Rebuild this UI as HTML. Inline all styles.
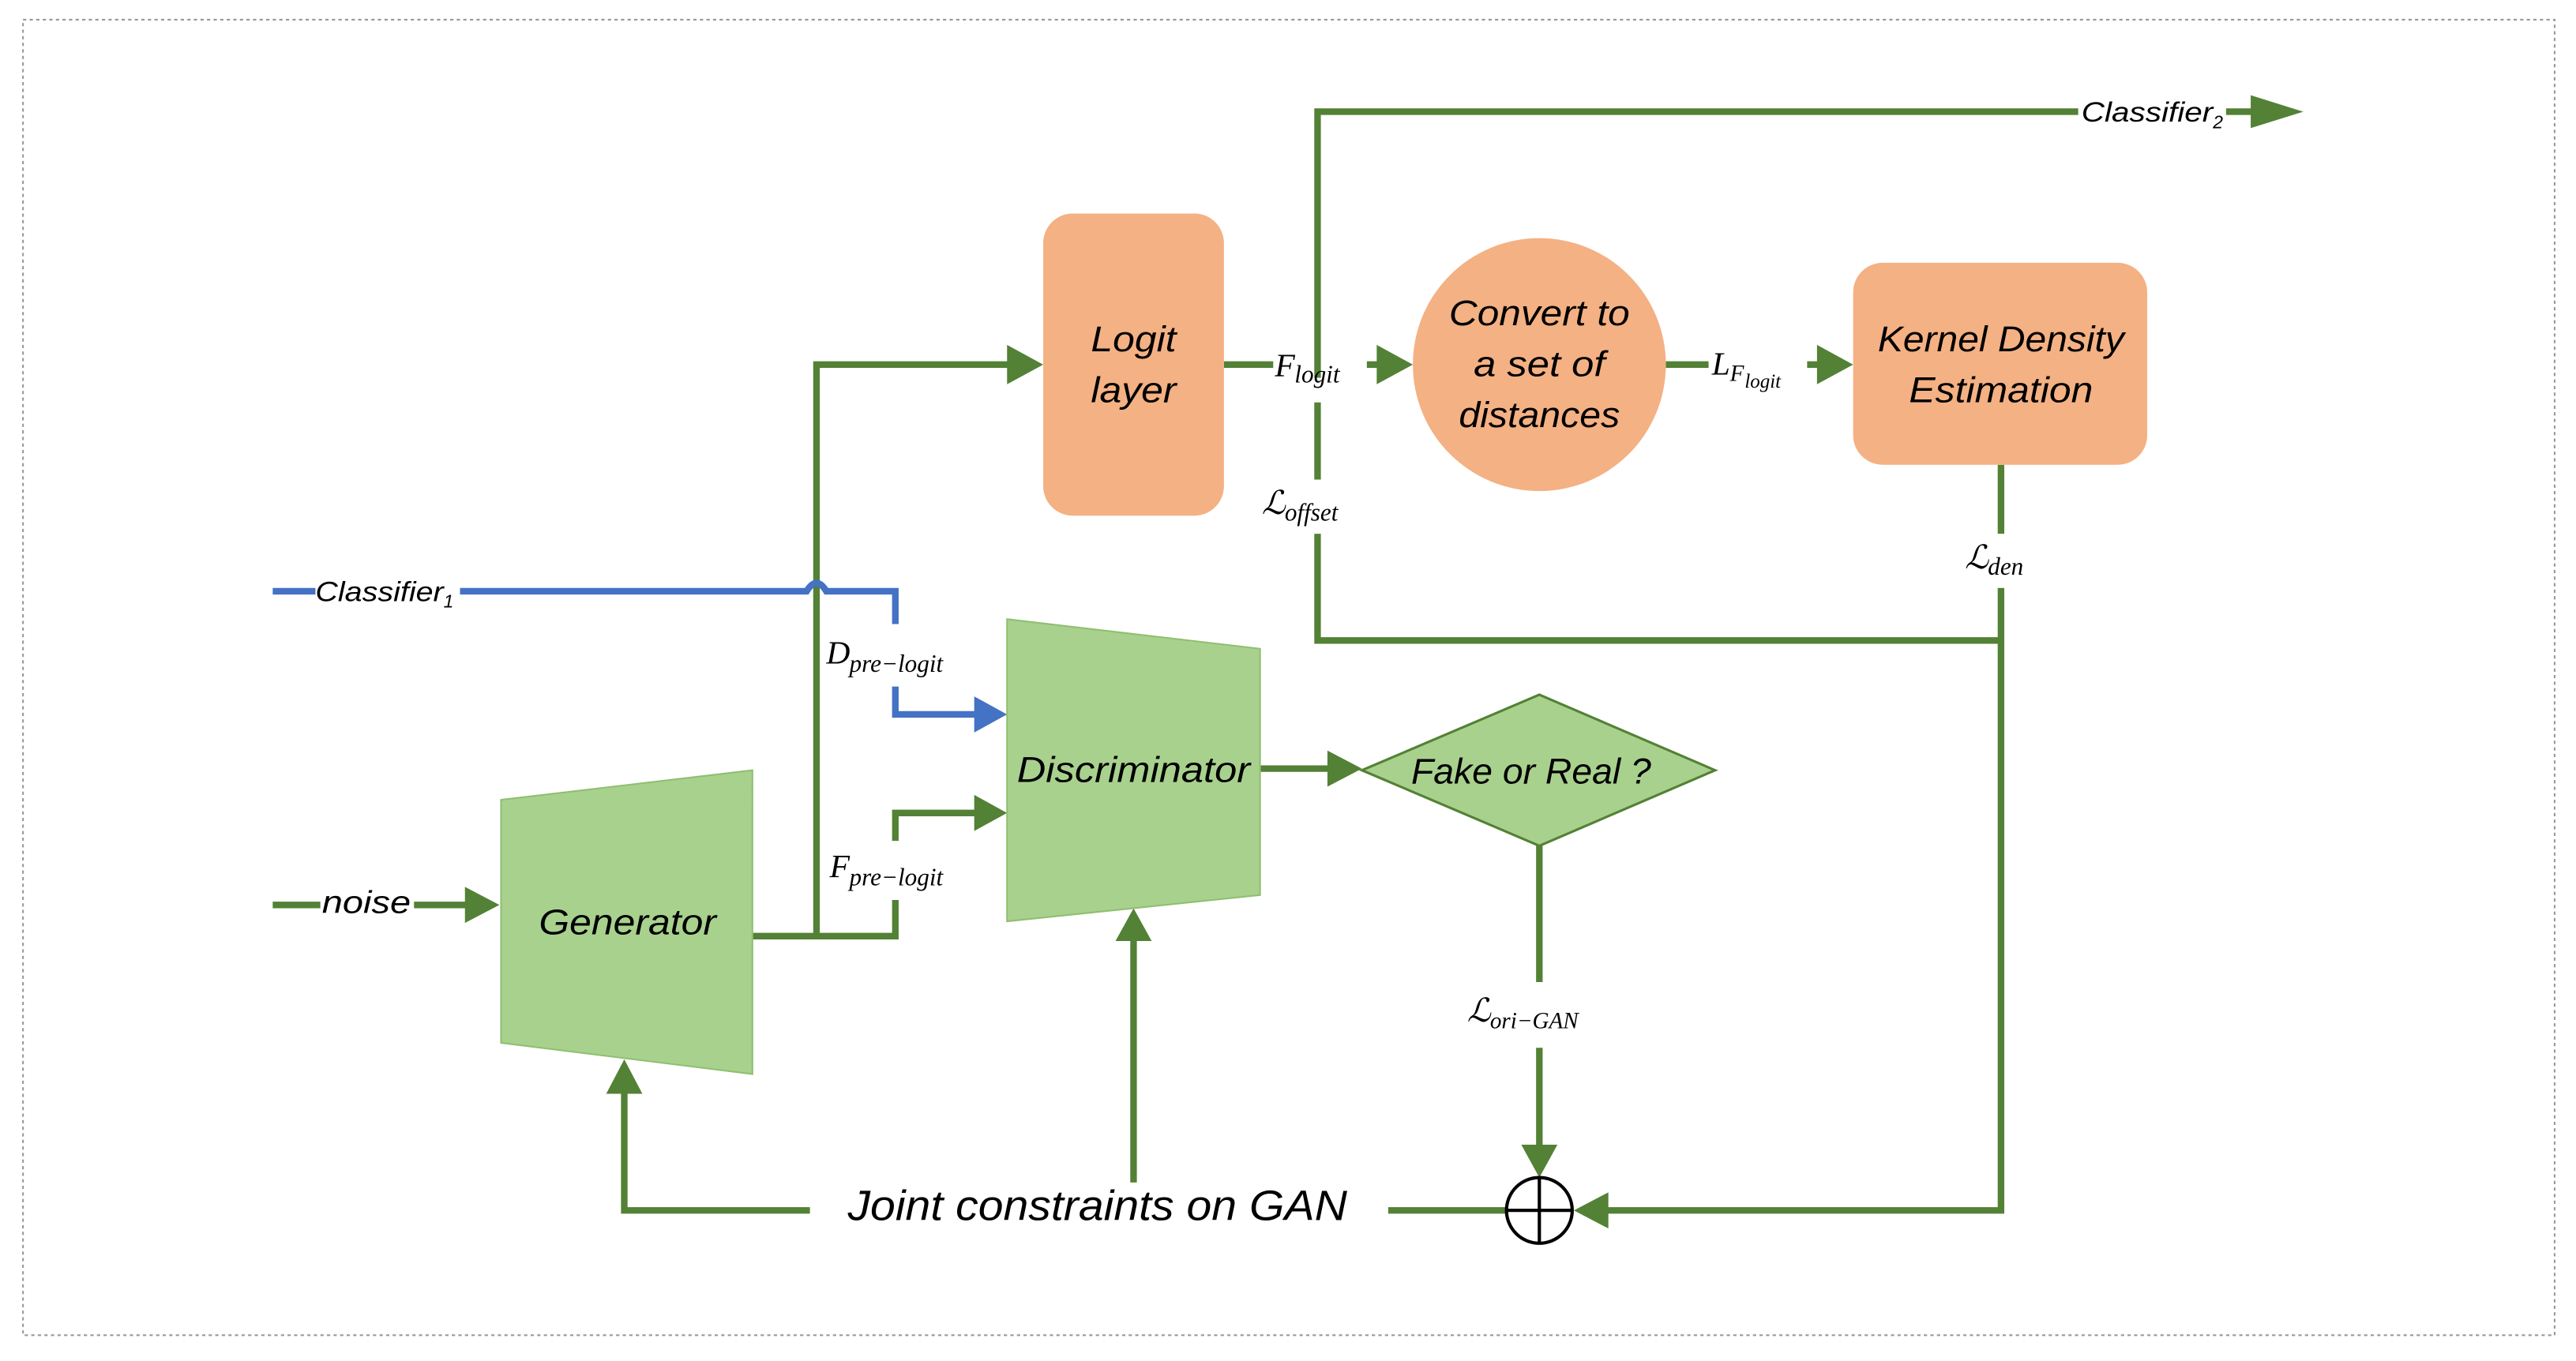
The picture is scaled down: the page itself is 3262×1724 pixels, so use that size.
<!DOCTYPE html>
<html><head><meta charset="utf-8"><style>
html,body{margin:0;padding:0;background:#fff;}
svg{display:block;}
text{font-family:"Liberation Sans",sans-serif;font-style:italic;fill:#000;}
.m{font-family:"Liberation Serif",serif;font-style:italic;}
</style></head><body>
<svg width="3262" height="1724" viewBox="0 0 1568 828.7" preserveAspectRatio="none" xmlns="http://www.w3.org/2000/svg">
<defs>
<marker id="ag" markerWidth="8" markerHeight="8" refX="7" refY="4" orient="auto" markerUnits="userSpaceOnUse" viewBox="0 0 8 8"><path d="M0,0 L8,4 L0,8 z" fill="#538135"/></marker>
</defs>
<rect x="14" y="12" width="1541" height="801" fill="none" stroke="#999" stroke-width="1" stroke-dasharray="2,2"/>
<g stroke="#538135" stroke-width="4" fill="none">
<!-- top classifier2 -->
<polyline points="802,230 802,68 1265,68"/>
<line x1="1355" y1="68" x2="1375" y2="68"/>
<!-- logit to circle -->
<line x1="745" y1="222" x2="775" y2="222"/>
<line x1="832" y1="222" x2="840" y2="222"/>
<line x1="1014" y1="222" x2="1040" y2="222"/>
<line x1="1100" y1="222" x2="1108" y2="222"/>
<!-- offset -->
<line x1="802" y1="245" x2="802" y2="292"/>
<polyline points="802,325 802,390 1218,390"/>
<line x1="1218" y1="283" x2="1218" y2="325"/>
<polyline points="1218,358 1218,737 975,737"/>
<!-- generator output -->
<polyline points="458,570 545,570 545,548"/>
<polyline points="545,512 545,495 595,495"/>
<polyline points="497,570 497,222 615,222"/>
<!-- noise -->
<line x1="166" y1="551" x2="195" y2="551"/>
<line x1="252" y1="551" x2="285" y2="551"/>
<!-- disc to diamond -->
<line x1="767" y1="468" x2="810" y2="468"/>
<!-- diamond down -->
<line x1="937" y1="515" x2="937" y2="598"/>
<line x1="937" y1="638" x2="937" y2="697"/>
<!-- bottom -->
<polyline points="493,737 380,737 380,665"/>
<line x1="690" y1="720" x2="690" y2="573"/>
<line x1="845" y1="737" x2="917" y2="737"/>
</g>
<g fill="#538135">
<path d="M1370,58 L1402,68 L1370,78 z"/>
<path d="M838,210 L860,222 L838,234 z"/>
<path d="M1106,210 L1128,222 L1106,234 z"/>
<path d="M613,210 L635,222 L613,234 z"/>
<path d="M593,484 L613,495 L593,506 z"/>
<path d="M283,540 L304,551 L283,562 z"/>
<path d="M808,457 L829,468 L808,479 z"/>
<path d="M926,697 L937,717 L948,697 z"/>
<path d="M979,726 L958,737 L979,748 z"/>
<path d="M369,666 L380,645 L391,666 z"/>
<path d="M679,573 L690,553 L701,573 z"/>
</g>
<!-- blue -->
<g stroke="#4472C4" stroke-width="4" fill="none">
<line x1="166" y1="360" x2="192" y2="360"/>
<path d="M280,360 L491,360 Q497,350 503,360 L545,360 L545,380"/>
<polyline points="545,418 545,435 595,435"/>
</g>
<path d="M593,424 L613,435 L593,446 z" fill="#4472C4"/>
<!-- shapes -->
<rect x="635" y="130" width="110" height="184" rx="18" fill="#F4B183"/>
<circle cx="937" cy="222" r="77" fill="#F4B183"/>
<rect x="1128" y="160" width="179" height="123" rx="18" fill="#F4B183"/>
<polygon points="305,487 458,469 458,654 305,635" fill="#A9D18E" stroke="#8fbf70" stroke-width="1"/>
<polygon points="613,377 767,395 767,545 613,561" fill="#A9D18E" stroke="#8fbf70" stroke-width="1"/>
<polygon points="829,469 937,423 1044,469 937,515" fill="#A9D18E" stroke="#538135" stroke-width="1.5"/>
<circle cx="937" cy="737" r="20" fill="#fff" stroke="#000" stroke-width="2"/>
<line x1="917" y1="737" x2="957" y2="737" stroke="#000" stroke-width="2"/>
<line x1="937" y1="717" x2="937" y2="757" stroke="#000" stroke-width="2"/>
<!-- text -->
<g font-size="22" text-anchor="middle">
<text x="690" y="214" textLength="52" lengthAdjust="spacingAndGlyphs">Logit</text>
<text x="690" y="245" textLength="52" lengthAdjust="spacingAndGlyphs">layer</text>
<text x="937" y="198" textLength="110" lengthAdjust="spacingAndGlyphs">Convert to</text>
<text x="937" y="229" textLength="80" lengthAdjust="spacingAndGlyphs">a set of</text>
<text x="937" y="260" textLength="98" lengthAdjust="spacingAndGlyphs">distances</text>
<text x="1218" y="214" textLength="150" lengthAdjust="spacingAndGlyphs">Kernel Density</text>
<text x="1218" y="245" textLength="112" lengthAdjust="spacingAndGlyphs">Estimation</text>
<text x="382" y="569" textLength="108" lengthAdjust="spacingAndGlyphs">Generator</text>
<text x="690" y="476" textLength="142" lengthAdjust="spacingAndGlyphs">Discriminator</text>
<text x="932" y="477" textLength="146" lengthAdjust="spacingAndGlyphs">Fake or Real ?</text>
<text x="668" y="743" font-size="26" textLength="304" lengthAdjust="spacingAndGlyphs">Joint constraints on GAN</text>
</g>
<g font-size="17">
<text x="192" y="366" textLength="78" lengthAdjust="spacingAndGlyphs">Classifier</text><text x="270" y="370" font-size="11">1</text>
<text x="1267" y="74" textLength="80" lengthAdjust="spacingAndGlyphs">Classifier</text><text x="1347" y="78" font-size="11">2</text>
<text x="196" y="556" font-size="19" textLength="54" lengthAdjust="spacingAndGlyphs">noise</text>
</g>
<g class="m" font-size="20">
<text class="m" x="776" y="229">F</text><text class="m" x="788" y="233" font-size="15">logit</text>
<text class="m" x="1042" y="228">L</text><text class="m" x="1053" y="232" font-size="14">F</text><text class="m" x="1062" y="236" font-size="12">logit</text>
<text class="m" x="768" y="313">ℒ</text><text class="m" x="782" y="317" font-size="15">offset</text>
<text class="m" x="1196" y="346">ℒ</text><text class="m" x="1210" y="350" font-size="15">den</text>
<text class="m" x="503" y="404">D</text><text class="m" x="517" y="409" font-size="15">pre−logit</text>
<text class="m" x="505" y="534">F</text><text class="m" x="517" y="539" font-size="15">pre−logit</text>
<text class="m" x="893" y="622">ℒ</text><text class="m" x="907" y="626" font-size="14">ori−GAN</text>
</g>
</svg>
</body></html>
